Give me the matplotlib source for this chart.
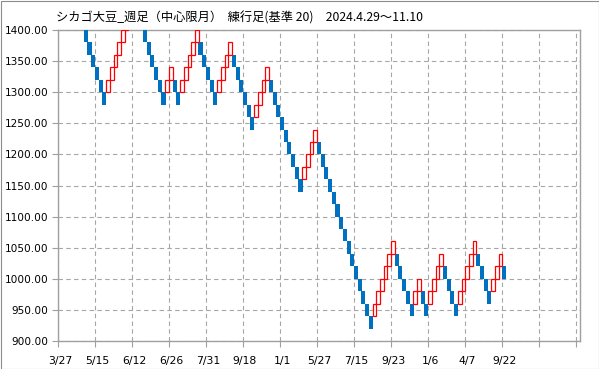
import matplotlib
matplotlib.use("Agg")
import matplotlib.pyplot as plt
from matplotlib.patches import Rectangle

plt.rcParams['font.family'] = ['Noto Sans CJK JP', 'DejaVu Sans']

# renko bricks (box 20), one close per brick, oldest first
box = 20
first_open = 1540
closes = [
    1520, 1500, 1480, 1460, 1440, 1420, 1400,
    1380, 1360, 1340, 1320, 1300, 1280,
    1320, 1340, 1360, 1380, 1400,
    1420, 1440, 1460,
    1420, 1400,
    1380, 1360, 1340, 1320, 1300, 1280,
    1320, 1340,
    1300, 1280,
    1320, 1340, 1360, 1380, 1400,
    1360, 1340, 1320, 1300, 1280,
    1320, 1340, 1360, 1380,
    1340, 1320, 1300, 1280, 1260, 1240,
    1280, 1300, 1320, 1340,
    1300, 1280, 1260, 1240, 1220, 1200, 1180, 1160, 1140,
    1180, 1200, 1220, 1240,
    1200, 1180, 1160, 1140, 1120, 1100, 1080, 1060, 1040, 1020,
    1000, 980, 960, 940, 920,
    960, 980, 1000, 1020, 1040, 1060,
    1020, 1000, 980, 960, 940,
    980, 1000,
    960, 940,
    980, 1000, 1020, 1040,
    1000, 980, 960, 940,
    980, 1000, 1020, 1040, 1060,
    1020, 1000, 980, 960,
    1000, 1020, 1040,
    1000,
]
date_labels = ['3/27', '5/15', '6/12', '6/26', '7/31', '9/18', '1/1',
               '5/27', '7/15', '9/23', '1/6', '4/7', '9/22']
n_slots = 141      # categories on the axis, blanks included
label_every = 10
title = 'シカゴ大豆_週足（中心限月）  練行足(基準 20)　2024.4.29～11.10'

up_x, up_low, dn_x, dn_low = [], [], [], []
prev = first_open
for i, c in enumerate(closes):
    if c > prev:
        up_x.append(i)
        up_low.append(c - box)
    else:
        dn_x.append(i)
        dn_low.append(c)
    prev = c

fig = plt.figure(figsize=(5.99, 3.69), dpi=100)
ax = fig.add_axes([58 / 599, 28 / 369, 522 / 599, 311 / 369])

ax.bar(dn_x, box, bottom=dn_low, width=1.1, color='#0070C0', linewidth=0, zorder=3)
ax.bar(up_x, box, bottom=up_low, width=1.0, facecolor='white',
       edgecolor='#FF0000', linewidth=0.9, zorder=4)

ax.set_xlim(-0.5, n_slots - 0.5)
ax.set_ylim(900, 1400)

ax.set_yticks(range(900, 1401, 50))
ax.set_yticklabels([f'{v:.2f}' for v in range(900, 1401, 50)])

bounds = [-0.5 + k * label_every for k in range(n_slots // label_every + 1)]
ax.set_xticks(bounds)
ax.set_xticklabels([''] * len(bounds))
ax.set_xticks([k * label_every for k in range(len(date_labels))], minor=True)
ax.set_xticklabels(date_labels, minor=True)

ax.tick_params(axis='both', which='major', length=4.5, width=0.8, color='#A0A0A0',
               labelsize=7.6, labelfontfamily='DejaVu Sans')
ax.tick_params(axis='y', pad=2.5)
ax.tick_params(axis='x', which='minor', length=0, pad=11, labelsize=7.8,
               labelfontfamily='DejaVu Sans')

ax.grid(True, which='major', linestyle=(0, (4, 3)), color='#A6A6A6', linewidth=0.8, zorder=1)
ax.set_axisbelow(True)
for s in ax.spines.values():
    s.set_color('#A0A0A0')
    s.set_linewidth(1.0)

fig.text(56 / 599, 1 - 17.5 / 369, title, ha='left', va='center', fontsize=8.8)

fig.patches.append(Rectangle((0.5 / 599, 0.5 / 369), 598 / 599, 368 / 369,
                             transform=fig.transFigure, fill=False,
                             edgecolor='#8C8C8C', linewidth=0.8))

fig.savefig('out.png', dpi=100)
